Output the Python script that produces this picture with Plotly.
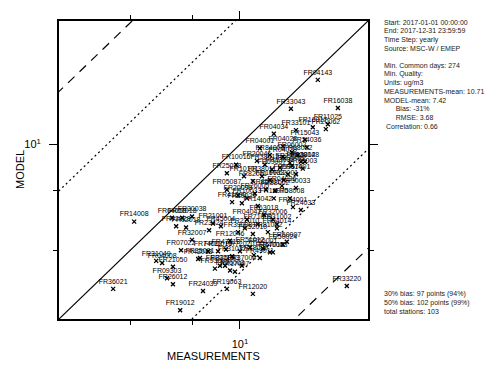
import plotly.graph_objects as go

# ---- data (annual means, ug/m3) ----
stations = [
    "FR36021", "FR14008", "FR19012", "FR24039", "FR19063", "FR12020", "FR09303", "FR26012",
    "FR31049", "FR04008", "FR21050", "FR33220",
    "FR04143", "FR33043", "FR16038", "FR11025", "FR20062", "FR16017", "FR33101", "FR15043",
    "FR04034", "FR24036", "FR04028", "FR06002", "FR28028", "FR06003", "FR04001", "FR20046",
    "FR04029", "FR84001", "FR27003", "FR68002",
    "FR10016", "FR25038", "FR10101", "FR82011", "FR05087", "FR38012", "FR69007", "FR13001",
    "FR59014", "FR67001", "FR38011", "FR16033", "FR62001", "FR35012", "FR13014", "FR88002",
    "FR04036", "FR30033", "FR10033", "FR20098", "FR14042", "FR24033", "FR34001", "FR16070",
    "FR29029", "FR41090", "FR26005", "FR85001", "FR58008",
    "FR04042", "FR32006", "FR31002", "FR04014", "FR30038", "FR04058", "FR07018", "FR02028",
    "FR02018", "FR21001", "FR23424", "FR32007", "FR12046", "FR22010", "FR45004", "FR71009",
    "FR63018", "FR52010", "FR60007", "FR50024", "FR81002", "FR39008",
    "FR57018", "FR07022", "FR35001", "FR31032", "FR23118", "FR26003", "FR42013", "FR93009",
    "FR25043", "FR17007", "FR37004", "FR66001", "FR40003", "FR18039", "FR49011", "FR74012",
    "FR11016", "FR72020", "FR51012", "FR47018",
]
measurements = [
    5.54, 6.11, 7.57, 8.42, 9.41, 10.62, 7.12, 7.32,
    6.77, 6.96, 7.32, 16.45,
    14.37, 12.68, 15.78, 15.06, 14.92, 14.04, 12.98, 13.53,
    11.71, 13.66, 12.21, 12.74, 13.53, 13.40, 10.97, 10.82,
    12.21, 11.50, 12.62, 13.10,
    9.82, 9.41, 10.19, 10.62, 9.41, 11.23, 11.60, 12.05,
    12.50, 12.98, 11.08, 11.50, 12.27, 12.74, 13.28, 11.77,
    12.16, 12.98, 10.33, 9.91, 10.87, 13.28, 12.80, 11.71,
    10.09, 9.64, 10.72, 11.29, 12.62,
    10.33, 11.66, 11.88, 11.88, 8.00, 7.29, 7.64, 7.43,
    7.78, 8.82, 8.66, 8.00, 9.55, 10.23, 9.15, 10.87,
    11.18, 10.62, 12.44, 12.21, 11.39, 9.91,
    11.50, 7.60, 8.30, 9.64, 9.11, 9.55, 8.23, 8.90,
    9.33, 9.77, 10.09, 11.13, 11.66, 10.67, 10.97, 8.62,
    9.03, 10.00, 10.48, 9.37,
]
model = [
    4.98, 6.89, 4.49, 4.93, 4.98, 4.86, 5.24, 5.09,
    5.70, 5.64, 5.54, 5.05,
    13.66, 11.88, 11.93, 11.03, 10.77, 10.87, 10.72, 10.23,
    10.53, 9.86, 9.91, 9.63, 9.20, 8.90, 9.82, 9.24,
    9.41, 9.50, 9.15, 9.50,
    9.07, 8.70, 8.58, 8.38, 8.04, 9.07, 8.86, 8.94,
    8.66, 8.66, 8.58, 8.42, 8.42, 9.03, 9.20, 8.00,
    8.19, 8.11, 7.71, 7.82, 7.43, 7.29, 7.39, 7.71,
    7.53, 7.57, 7.89, 8.04, 7.71,
    6.96, 6.96, 6.80, 6.67, 7.06, 7.02, 7.02, 6.74,
    6.70, 6.83, 6.61, 6.31, 6.28, 6.67, 6.74, 6.80,
    7.12, 6.49, 6.25, 6.17, 6.55, 6.55,
    5.94, 6.00, 5.78, 5.83, 5.57, 5.44, 5.75, 5.49,
    5.57, 5.41, 5.57, 6.05, 5.94, 5.86, 5.78, 5.97,
    5.97, 5.97, 6.08, 6.02,
]
bias_factors = [1.3 / 0.7, 1.5 / 0.5]   # 30 % and 50 % bias envelopes
major_ticks = [10]
minor_ticks = [6, 8]
log_range = [0.634, 1.259]

stats_top = [
    "Start: 2017-01-01 00:00:00",
    "End: 2017-12-31 23:59:59",
    "Time Step: yearly",
    "Source: MSC-W / EMEP",
    "",
    "Min. Common days: 274",
    "Min. Quality:",
    "Units: ug/m3",
    "MEASUREMENTS-mean: 10.71",
    "MODEL-mean: 7.42",
    "      Bias: -31%",
    "      RMSE: 3.68",
    " Correlation: 0.66",
]
stats_bottom = [
    "30% bias: 97 points (94%)",
    "50% bias: 102 points (99%)",
    "total stations: 103",
]

FONT = "Liberation Sans, Arial, sans-serif"
fig = go.Figure()

line_x = [1, 100]
fig.add_trace(go.Scatter(x=line_x, y=line_x, mode="lines",
                         line=dict(color="black", width=1.2), hoverinfo="skip"))
for f, dash in zip(bias_factors, ["2px,3px", "9px,7px"]):
    for k in (f, 1 / f):
        fig.add_trace(go.Scatter(x=line_x, y=[v * k for v in line_x], mode="lines",
                                 line=dict(color="black", width=1.2, dash=dash),
                                 hoverinfo="skip"))

fig.add_trace(go.Scatter(
    x=measurements, y=model, text=stations, mode="markers+text",
    textposition="top center",
    textfont=dict(family=FONT, size=7, color="black"),
    marker=dict(symbol="x-thin", size=4, line=dict(width=1.3, color="black"), color="black"),
))

axis_common = dict(
    type="log", range=log_range, showgrid=False, zeroline=False,
    showline=True, linecolor="black", linewidth=2, mirror="ticks",
    ticks="outside", ticklen=8, tickwidth=1.2, tickcolor="black",
    tickvals=major_ticks, ticktext=["10<sup>1</sup>"],
    tickfont=dict(family=FONT, size=11, color="black"),
    minor=dict(tickvals=minor_ticks, ticks="outside", ticklen=4, tickwidth=1.2,
               tickcolor="black", showgrid=False),
)
fig.update_xaxes(**axis_common, ticklabelstandoff=6)
fig.update_yaxes(**axis_common, ticklabelstandoff=6)

W, H = 485, 367
L, R, T, B = 59, 368, 11, 319
fig.update_layout(
    width=W, height=H, showlegend=False,
    margin=dict(l=L, r=W - R, t=T, b=H - B),
    paper_bgcolor="white", plot_bgcolor="white",
)

def px2paper(px, py):
    return (px - L) / (R - L), (B - py) / (B - T)

ann = []
ax, ay = px2paper(213, 357)
ann.append(dict(text="MEASUREMENTS", x=ax, y=ay, font=dict(family=FONT, size=11, color="black")))
ax, ay = px2paper(20, 165)
ann.append(dict(text="MODEL", x=ax, y=ay, textangle=-90, font=dict(family=FONT, size=11, color="black")))
for i, s in enumerate(stats_top):
    if not s:
        continue
    ax, ay = px2paper(382, 12.3 + 8.95 * i)
    ann.append(dict(text=s.replace(" ", "&nbsp;") if s.startswith(" ") else s,
                    x=ax, y=ay, xanchor="left",
                    font=dict(family=FONT, size=7, color="#222")))
for i, s in enumerate(stats_bottom):
    ax, ay = px2paper(382, 293 + 9 * i)
    ann.append(dict(text=s, x=ax, y=ay, xanchor="left",
                    font=dict(family=FONT, size=7, color="#222")))
for a in ann:
    a.update(xref="paper", yref="paper", showarrow=False, yanchor="middle")
    a.setdefault("xanchor", "center")
fig.update_layout(annotations=ann)

fig.write_html("out.html")
